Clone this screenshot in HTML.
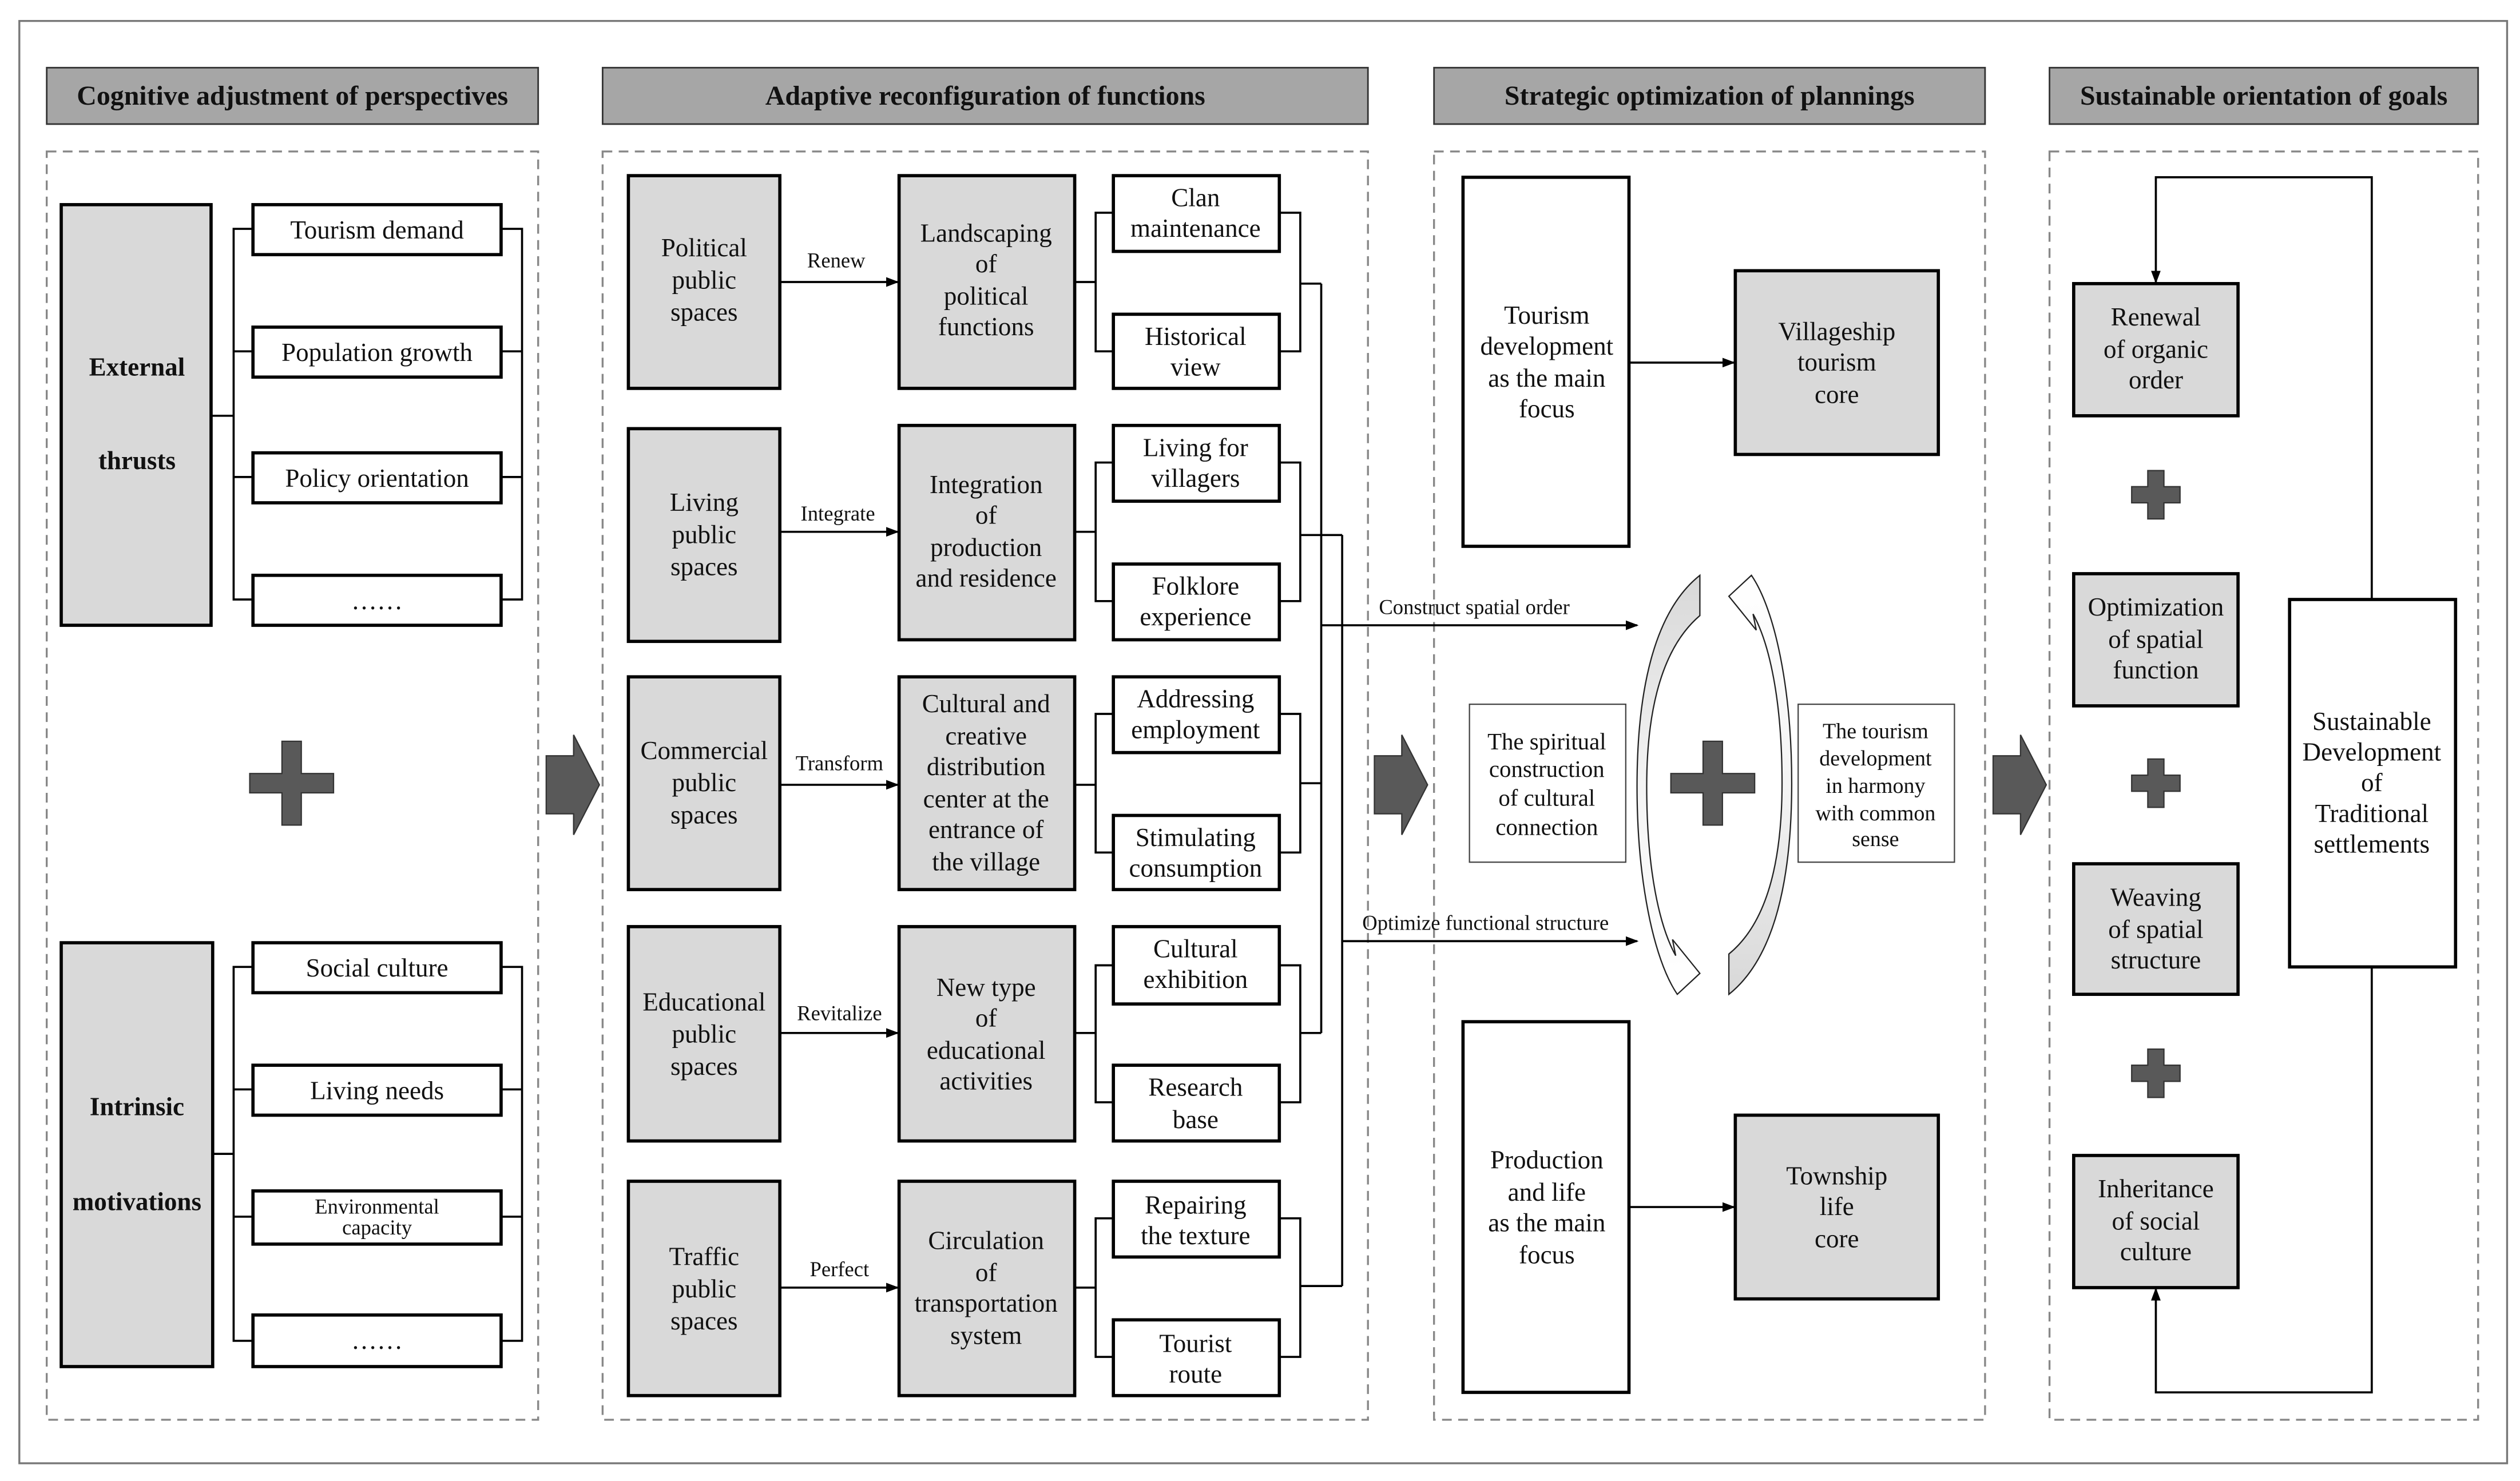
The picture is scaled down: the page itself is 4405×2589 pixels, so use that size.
<!DOCTYPE html>
<html><head><meta charset="utf-8"><style>
html,body{margin:0;padding:0;background:#fff;}
svg{display:block;}
text{font-family:"Liberation Serif","DejaVu Serif",serif;fill:#111;}
.h{font-weight:bold;font-size:17px;}
.t{font-size:16px;}
.s{font-size:13px;}
</style></head><body>
<svg width="4405" height="2589" viewBox="0 0 1564 919" preserveAspectRatio="none" xmlns="http://www.w3.org/2000/svg" font-family="Liberation Serif, DejaVu Serif, serif">
<defs>
<marker id="a" markerWidth="8" markerHeight="8" refX="7" refY="4" orient="auto" markerUnits="userSpaceOnUse"><path d="M0,1 L8,4 L0,7 Z" fill="#000"/></marker>
<g id="plus"><path d="M-6,-26 H6 V-6 H26 V6 H6 V26 H-6 V6 H-26 V-6 H-6 Z" fill="#595959" stroke="#333" stroke-width="0.8"/></g>
<g id="plusS"><path d="M-5,-15 H5 V-5 H15 V5 H5 V15 H-5 V5 H-15 V-5 H-5 Z" fill="#595959" stroke="#333" stroke-width="0.8"/></g>
<g id="barrow"><path d="M0,-18 H17 V-31 L33,0 L17,31 V18 H0 Z" fill="#595959" stroke="#333" stroke-width="0.8"/></g>
<linearGradient id="g1" x1="0" y1="0" x2="0" y2="1"><stop offset="0" stop-color="#d8d8d8"/><stop offset="0.5" stop-color="#f4f4f4"/><stop offset="1" stop-color="#fff"/></linearGradient>
<linearGradient id="g2" x1="0" y1="1" x2="0" y2="0"><stop offset="0" stop-color="#d8d8d8"/><stop offset="0.5" stop-color="#f4f4f4"/><stop offset="1" stop-color="#fff"/></linearGradient>
</defs>
<rect x="12" y="13" width="1544" height="895" fill="#fff" stroke="#777" stroke-width="1.2"/>
<g fill="#a6a6a6" stroke="#333" stroke-width="1">
<rect x="29" y="42" width="305" height="35"/>
<rect x="374" y="42" width="475" height="35"/>
<rect x="890" y="42" width="342" height="35"/>
<rect x="1272" y="42" width="266" height="35"/>
</g>
<g class="h" text-anchor="middle">
<text x="181.5" y="65">Cognitive adjustment of perspectives</text>
<text x="611.5" y="65">Adaptive reconfiguration of functions</text>
<text x="1061" y="65">Strategic optimization of plannings</text>
<text x="1405" y="65">Sustainable orientation of goals</text>
</g>
<g fill="none" stroke="#888" stroke-width="1.2" stroke-dasharray="6,4">
<rect x="29" y="94" width="305" height="787"/>
<rect x="374" y="94" width="475" height="787"/>
<rect x="890" y="94" width="342" height="787"/>
<rect x="1272" y="94" width="266" height="787"/>
</g>
<g stroke="#000" stroke-width="2">
<rect x="38" y="127" width="93" height="261" fill="#d9d9d9"/>
<rect x="38" y="585" width="94" height="263" fill="#d9d9d9"/>
<g fill="#fff">
<rect x="157" y="127" width="154" height="31"/><rect x="157" y="203" width="154" height="31"/><rect x="157" y="281" width="154" height="31"/><rect x="157" y="357" width="154" height="31"/>
<rect x="157" y="585" width="154" height="31"/><rect x="157" y="661" width="154" height="31"/><rect x="157" y="739" width="154" height="33"/><rect x="157" y="816" width="154" height="32"/>
</g></g>
<g fill="none" stroke="#000" stroke-width="1.3">
<path d="M131,258 H145 M157,142 H145 V372 H157 M145,218 H157 M145,296 H157"/>
<path d="M311,142 H324 V372 H311 M311,218 H324 M311,296 H324"/>
<path d="M132,716 H145 M157,600 H145 V832 H157 M145,676 H157 M145,755 H157"/>
<path d="M311,600 H324 V832 H311 M311,676 H324 M311,755 H324"/>
</g>
<g class="t" text-anchor="middle">
<text x="85" y="233" font-weight="bold">External</text><text x="85" y="291" font-weight="bold">thrusts</text>
<text x="85" y="692" font-weight="bold">Intrinsic</text><text x="85" y="751" font-weight="bold">motivations</text>
<text x="234" y="148">Tourism demand</text><text x="234" y="224">Population growth</text><text x="234" y="302">Policy orientation</text><text x="234" y="378">……</text>
<text x="234" y="606">Social culture</text><text x="234" y="682">Living needs</text>
<text x="234" y="753" class="s">Environmental</text><text x="234" y="766" class="s">capacity</text><text x="234" y="837">……</text>
</g>
<use href="#plus" x="181" y="486"/>
<use href="#barrow" x="339" y="487"/>
<use href="#barrow" x="853" y="487"/>
<use href="#barrow" x="1237" y="487"/>
<g stroke="#000" stroke-width="2">
<g fill="#d9d9d9">
<rect x="390" y="109" width="94" height="132"/><rect x="558" y="109" width="109" height="132"/>
<rect x="390" y="266" width="94" height="132"/><rect x="558" y="264" width="109" height="133"/>
<rect x="390" y="420" width="94" height="132"/><rect x="558" y="420" width="109" height="132"/>
<rect x="390" y="575" width="94" height="133"/><rect x="558" y="575" width="109" height="133"/>
<rect x="390" y="733" width="94" height="133"/><rect x="558" y="733" width="109" height="133"/>
</g>
<g fill="#fff">
<rect x="691" y="109" width="103" height="47"/><rect x="691" y="195" width="103" height="46"/>
<rect x="691" y="264" width="103" height="47"/><rect x="691" y="350" width="103" height="47"/>
<rect x="691" y="420" width="103" height="47"/><rect x="691" y="506" width="103" height="46"/>
<rect x="691" y="575" width="103" height="48"/><rect x="691" y="661" width="103" height="47"/>
<rect x="691" y="733" width="103" height="47"/><rect x="691" y="819" width="103" height="47"/>
</g></g>
<g fill="none" stroke="#000" stroke-width="1.3">
<path d="M484,175 H557" marker-end="url(#a)"/><path d="M484,330 H557" marker-end="url(#a)"/><path d="M484,487 H557" marker-end="url(#a)"/><path d="M484,641 H557" marker-end="url(#a)"/><path d="M484,799 H557" marker-end="url(#a)"/>
<path d="M667,175 H680 M691,132 H680 V218 H691 M794,132 H807 V218 H794 M807,176 H820"/>
<path d="M667,330 H680 M691,287 H680 V373 H691 M794,287 H807 V373 H794 M807,332 H833"/>
<path d="M667,487 H680 M691,443 H680 V529 H691 M794,443 H807 V529 H794 M807,486 H820"/>
<path d="M667,641 H680 M691,599 H680 V684 H691 M794,599 H807 V684 H794 M807,641 H820"/>
<path d="M667,799 H680 M691,756 H680 V842 H691 M794,756 H807 V842 H794 M807,798 H833"/>
<path d="M820,176 V641 M833,332 V798"/>
<path d="M820,388 H1016" marker-end="url(#a)"/><path d="M833,584 H1016" marker-end="url(#a)"/>
</g>
<g class="s" text-anchor="middle">
<text x="519" y="166">Renew</text><text x="520" y="323">Integrate</text><text x="521" y="478">Transform</text><text x="521" y="633">Revitalize</text><text x="521" y="792">Perfect</text>
<text x="915" y="381">Construct spatial order</text><text x="922" y="577">Optimize functional structure</text>
</g>
<g class="t" text-anchor="middle">
<text x="437" y="159">Political</text><text x="437" y="179">public</text><text x="437" y="199">spaces</text>
<text x="437" y="317">Living</text><text x="437" y="337">public</text><text x="437" y="357">spaces</text>
<text x="437" y="471">Commercial</text><text x="437" y="491">public</text><text x="437" y="511">spaces</text>
<text x="437" y="627">Educational</text><text x="437" y="647">public</text><text x="437" y="667">spaces</text>
<text x="437" y="785">Traffic</text><text x="437" y="805">public</text><text x="437" y="825">spaces</text>
<text x="612" y="150">Landscaping</text><text x="612" y="169">of</text><text x="612" y="189">political</text><text x="612" y="208">functions</text>
<text x="612" y="306">Integration</text><text x="612" y="325">of</text><text x="612" y="345">production</text><text x="612" y="364">and residence</text>
<text x="612" y="442">Cultural and</text><text x="612" y="462">creative</text><text x="612" y="481">distribution</text><text x="612" y="501">center at the</text><text x="612" y="520">entrance of</text><text x="612" y="540">the village</text>
<text x="612" y="618">New type</text><text x="612" y="637">of</text><text x="612" y="657">educational</text><text x="612" y="676">activities</text>
<text x="612" y="775">Circulation</text><text x="612" y="795">of</text><text x="612" y="814">transportation</text><text x="612" y="834">system</text>
<text x="742" y="128">Clan</text><text x="742" y="147">maintenance</text>
<text x="742" y="214">Historical</text><text x="742" y="233">view</text>
<text x="742" y="283">Living for</text><text x="742" y="302">villagers</text>
<text x="742" y="369">Folklore</text><text x="742" y="388">experience</text>
<text x="742" y="439">Addressing</text><text x="742" y="458">employment</text>
<text x="742" y="525">Stimulating</text><text x="742" y="544">consumption</text>
<text x="742" y="594">Cultural</text><text x="742" y="613">exhibition</text>
<text x="742" y="680">Research</text><text x="742" y="700">base</text>
<text x="742" y="753">Repairing</text><text x="742" y="772">the texture</text>
<text x="742" y="839">Tourist</text><text x="742" y="858">route</text>
</g>
<g stroke="#000" stroke-width="2">
<rect x="908" y="110" width="103" height="229" fill="#fff"/>
<rect x="908" y="634" width="103" height="230" fill="#fff"/>
<rect x="1077" y="168" width="126" height="114" fill="#d9d9d9"/>
<rect x="1077" y="692" width="126" height="114" fill="#d9d9d9"/>
</g>
<g fill="none" stroke="#000" stroke-width="1.3">
<path d="M1011,225 H1076" marker-end="url(#a)"/><path d="M1011,749 H1076" marker-end="url(#a)"/>
</g>
<rect x="912" y="437" width="97" height="98" fill="#fff" stroke="#444" stroke-width="0.8"/>
<rect x="1116" y="437" width="97" height="98" fill="#fff" stroke="#444" stroke-width="0.8"/>
<path d="M1055,357 L1055,382 C1028,405 1022,450 1022,488 C1022,540 1030,575 1040,593 L1038,583 L1055,604 L1041,617 C1026,595 1016,545 1016,488 C1016,430 1026,380 1055,357 Z" fill="url(#g1)" stroke="#222" stroke-width="0.8"/>
<path d="M1073,617 L1073,592 C1100,570 1106,525 1106,486 C1106,434 1098,399 1088,381 L1090,391 L1073,370 L1087,357 C1102,379 1112,429 1112,486 C1112,544 1102,594 1073,617 Z" fill="url(#g2)" stroke="#222" stroke-width="0.8"/>
<use href="#plus" x="1063" y="486"/>
<g class="t" text-anchor="middle">
<text x="960" y="201">Tourism</text><text x="960" y="220">development</text><text x="960" y="240">as the main</text><text x="960" y="259">focus</text>
<text x="960" y="725">Production</text><text x="960" y="745">and life</text><text x="960" y="764">as the main</text><text x="960" y="784">focus</text>
<text x="1140" y="211">Villageship</text><text x="1140" y="230">tourism</text><text x="1140" y="250">core</text>
<text x="1140" y="735">Township</text><text x="1140" y="754">life</text><text x="1140" y="774">core</text>
</g>
<g font-size="14.5" text-anchor="middle">
<text x="960" y="465">The spiritual</text><text x="960" y="482">construction</text><text x="960" y="500">of cultural</text><text x="960" y="518">connection</text>
</g>
<g font-size="13.5" text-anchor="middle">
<text x="1164" y="458">The tourism</text><text x="1164" y="475">development</text><text x="1164" y="492">in harmony</text><text x="1164" y="509">with common</text><text x="1164" y="525">sense</text>
</g>
<g stroke="#000" stroke-width="2" fill="#d9d9d9">
<rect x="1287" y="176" width="102" height="82"/><rect x="1287" y="356" width="102" height="82"/>
<rect x="1287" y="536" width="102" height="81"/><rect x="1287" y="717" width="102" height="82"/>
</g>
<rect x="1421" y="372" width="103" height="228" fill="#fff" stroke="#000" stroke-width="2"/>
<g fill="none" stroke="#000" stroke-width="1.3">
<path d="M1472,372 V110 H1338 V175" marker-end="url(#a)"/>
<path d="M1472,600 V864 H1338 V800" marker-end="url(#a)"/>
</g>
<use href="#plusS" x="1338" y="307"/><use href="#plusS" x="1338" y="486"/><use href="#plusS" x="1338" y="666"/>
<g class="t" text-anchor="middle">
<text x="1338" y="202">Renewal</text><text x="1338" y="222">of organic</text><text x="1338" y="241">order</text>
<text x="1338" y="382">Optimization</text><text x="1338" y="402">of spatial</text><text x="1338" y="421">function</text>
<text x="1338" y="562">Weaving</text><text x="1338" y="582">of spatial</text><text x="1338" y="601">structure</text>
<text x="1338" y="743">Inheritance</text><text x="1338" y="763">of social</text><text x="1338" y="782">culture</text>
<text x="1472" y="453">Sustainable</text><text x="1472" y="472">Development</text><text x="1472" y="491">of</text><text x="1472" y="510">Traditional</text><text x="1472" y="529">settlements</text>
</g>
</svg>
</body></html>
